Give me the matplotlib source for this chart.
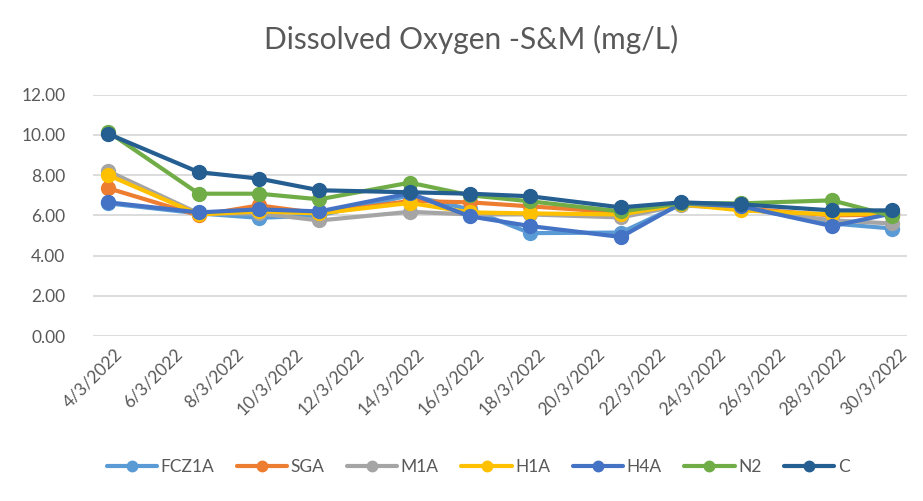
import pandas as pd
import matplotlib
matplotlib.use("Agg")
import matplotlib.pyplot as plt
import matplotlib.transforms as mtransforms

plt.rcParams['font.family'] = ['Lato', 'DejaVu Sans']

# sampling dates and dissolved oxygen readings (mg/L)
dates = pd.to_datetime(["2022-03-04", "2022-03-07", "2022-03-09", "2022-03-11",
                        "2022-03-14", "2022-03-16", "2022-03-18", "2022-03-21",
                        "2022-03-23", "2022-03-25", "2022-03-28", "2022-03-30"])

fcz1a = [6.60, 6.10, 5.88, 6.00, 7.00, 6.30, 5.12, 5.15, 6.55, 6.40, 5.60, 5.35]
sga   = [7.35, 6.00, 6.50, 6.10, 6.72, 6.65, 6.45, 6.15, 6.55, 6.35, 6.00, 6.05]
m1a   = [8.20, 6.10, 6.10, 5.75, 6.18, 6.05, 6.05, 5.90, 6.50, 6.35, 5.75, 5.60]
h1a   = [8.00, 6.05, 6.20, 6.10, 6.62, 6.15, 6.10, 6.05, 6.55, 6.25, 6.05, 6.10]
h4a   = [6.65, 6.15, 6.30, 6.20, 7.10, 5.95, 5.47, 4.93, 6.60, 6.45, 5.47, 6.10]
n2    = [10.15, 7.08, 7.08, 6.80, 7.63, 7.00, 6.70, 6.20, 6.60, 6.60, 6.75, 5.97]
c     = [10.05, 8.15, 7.83, 7.25, 7.15, 7.08, 6.95, 6.40, 6.65, 6.55, 6.25, 6.25]

names = ["FCZ1A", "SGA", "M1A", "H1A", "H4A", "N2", "C"]
series = [fcz1a, sga, m1a, h1a, h4a, n2, c]
colors = ["#5B9BD5", "#ED7D31", "#A5A5A5", "#FFC000", "#4472C4", "#70AD47", "#255E91"]

tick_dates = pd.date_range("2022-03-04", "2022-03-30", freq="2D")
tick_labels = [f"{d.day}/{d.month}/{d.year}" for d in tick_dates]

fig = plt.figure(figsize=(9.23, 5.01), dpi=100)
ax = fig.add_axes([0.101, 0.329, 0.882, 0.482])

for name, vals, col in zip(names, series, colors):
    ax.plot(dates, vals, color=col, lw=3.0, marker='o', markersize=10,
            label=name, solid_capstyle='round', solid_joinstyle='round')

ax.set_ylim(0, 12)
ax.set_yticks([0, 2, 4, 6, 8, 10, 12])
ax.set_yticklabels([f"{v:.2f}" for v in ax.get_yticks()])
ax.set_xlim(pd.Timestamp("2022-03-03 12:00"), pd.Timestamp("2022-03-30 12:00"))
ax.set_xticks(tick_dates)
ax.set_xticklabels(tick_labels, rotation=45, ha='right', rotation_mode='anchor')

ax.grid(axis='y', color='#D9D9D9', lw=1.3)
ax.set_axisbelow(True)
for s in ax.spines.values():
    s.set_visible(False)
ax.tick_params(length=0, colors='#595959', labelsize=12.5)
ax.tick_params(axis='x', pad=7)
ax.tick_params(axis='y', pad=20)

# Excel puts the rotated labels a bit right of the tick
shift = mtransforms.ScaledTranslation(6 / 100, 0, fig.dpi_scale_trans)
for lbl in ax.get_xticklabels():
    lbl.set_transform(lbl.get_transform() + shift)

fig.suptitle("Dissolved Oxygen -S&M (mg/L)", x=0.51, y=0.95, fontsize=21.5, color='#595959')

fig.legend(loc='center', bbox_to_anchor=(0.518, 0.068), ncol=7, frameon=False,
           fontsize=12.5, labelcolor='#595959', handlelength=2.9, handletextpad=0.2,
           columnspacing=1.3, markerscale=0.75)

fig.savefig("out.png", dpi=100)
